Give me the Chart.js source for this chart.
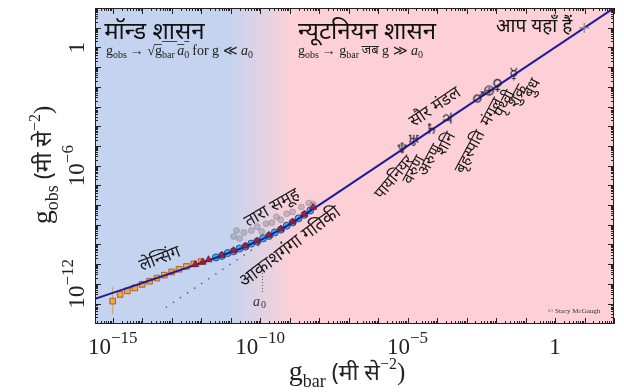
<!DOCTYPE html>
<html><head><meta charset="utf-8">
<script src="https://cdn.jsdelivr.net/npm/chart.js@4.4.0/dist/chart.umd.min.js"></script>
<style>html,body{margin:0;padding:0;background:#fff;}</style>
</head><body>
<canvas id="c" width="624" height="392"></canvas>
<script>
// ---- data (log10 units, m s^-2) ----
const lineX = [-15.6,-15,-14,-13,-12,-11.5,-11,-10.6,-10.2,-9.8,-9.4,-9.0,-8.6,-8.2,-7.8,-7,2.0];
const lineY = [-12.76,-12.46,-11.96,-11.45,-10.94,-10.68,-10.40,-10.17,-9.91,-9.64,-9.32,-8.98,-8.60,-8.20,-7.80,-7.0,2.0];
const newtonX = [-13.2,-9.2];
const newtonY = [-13.2,-9.2];
const lensX = [-15.0,-14.75,-14.5,-14.25,-14.0,-13.75,-13.5,-13.25,-13.0,-12.75,-12.5,-12.25,-12.0];
const lensY = [-12.88,-12.54,-12.36,-12.21,-12.03,-11.87,-11.71,-11.56,-11.40,-11.26,-11.12,-10.99,-10.87];
const lensErrX = [-15.0];
const lensErrLo = [-13.55];
const lensErrHi = [-12.15];
const clusterX = [-10.9,-10.8,-10.7,-10.55,-10.3,-10.1,-9.95,-9.8,-9.6,-9.45,-9.3,-9.1,-8.9,-8.6,-8.35,-8.2];
const clusterY = [-9.6,-9.3,-9.7,-9.4,-9.3,-9.1,-9.35,-8.95,-8.9,-8.6,-8.75,-8.45,-8.35,-8.1,-7.9,-7.95];
const galX = [-11.5,-11.3,-11.1,-10.9,-10.7,-10.5,-10.3,-10.1,-9.9,-9.7,-9.5,-9.3,-9.1,-8.9,-8.7,-8.5,-8.3];
const galY = [-10.66,-10.58,-10.44,-10.35,-10.21,-10.11,-9.96,-9.85,-9.69,-9.57,-9.39,-9.25,-9.05,-8.89,-8.68,-8.50,-8.28];
const triX = [-12.2,-11.95,-11.75,-11.3,-10.9,-10.5,-10.1,-9.7,-9.3,-8.9,-8.5,-8.2];
const triY = [-11.02,-10.90,-10.78,-10.55,-10.32,-10.08,-9.83,-9.54,-9.22,-8.86,-8.47,-8.12];
const planetX = [-5.18,-4.79,-4.19,-3.66,-2.59,-2.23,-1.95,-1.40];
const planetY = [-5.18,-4.79,-4.19,-3.66,-2.59,-2.23,-1.95,-1.40];
const planetSym = ['♆','♅','♄','♃','♂','⊕','♀','☿'];
const planetNames = ['वरुण','अरुण','शनि','बृहस्पति','मंगल','पृथ्वी','शुक्र','बुध'];
const earthX = [0.99];
const earthY = [0.99];
const a0Log = -9.92;
const xTickVals = [-15,-10,-5,0];
const xTickLabels = ['10^−15','10^−10','10^−5','1'];
const yTickVals = [-12,-6,0];
const yTickLabels = ['10^−12','10^−6','1'];

const DEV = "'Noto Sans','Noto Sans Devanagari','Lohit Devanagari','Mukta',sans-serif";
const SERIF = "'Liberation Serif','DejaVu Serif',serif";

const pts = (xs, ys) => xs.map((x, i) => ({x, y: ys[i]}));

function symCanvas(ch) {
  const c = document.createElement('canvas'); c.width = 18; c.height = 18;
  const g = c.getContext('2d');
  g.fillStyle = '#1a1a38'; g.font = "15px 'DejaVu Sans'"; g.textAlign = 'center'; g.textBaseline = 'middle';
  g.fillText(ch, 9, 9.5);
  return c;
}

function drawRich(ctx, x, y, segs, align) {
  let w = 0;
  segs.forEach(s => { ctx.font = s.f; s.w = ctx.measureText(s.t).width; w += s.w + (s.gap || 0); });
  let cx = align === 'center' ? x - w / 2 : x;
  segs.forEach(s => {
    ctx.font = s.f; ctx.fillStyle = s.c || '#222';
    ctx.fillText(s.t, cx, y + (s.dy || 0));
    if (s.over) { ctx.fillRect(cx, y + s.over, s.w, 0.8); }
    cx += s.w + (s.gap || 0);
  });
}

const bgPlugin = {
  id: 'bg',
  beforeDraw(chart) {
    const {ctx, chartArea: a, scales: {x}} = chart;
    ctx.save();
    ctx.fillStyle = '#fff'; ctx.fillRect(0, 0, chart.width, chart.height);
    const g = ctx.createLinearGradient(x.getPixelForValue(-11.1), 0, x.getPixelForValue(-8.9), 0);
    g.addColorStop(0, '#c4d3ef'); g.addColorStop(1, '#fdd0d8');
    ctx.fillStyle = g; ctx.fillRect(a.left, a.top, a.right - a.left, a.bottom - a.top);
    ctx.restore();
  }
};

const labels = [
  {t:'लेन्सिंग', x:-13.40, y:-10.74, r:-21, s:17},
  {t:'तारा समूह', x:-9.60, y:-8.15, r:-30, s:17},
  {t:'आकाशगंगा गतिकी', x:-8.99, y:-10.13, r:-37, s:18},
  {t:'पायनियर', x:-5.45, y:-6.6, r:-50, s:16},
  {t:'सौर मंडल', x:-4.07, y:-3.03, r:-34, s:17},
];
const planetLabelPos = [[-4.78,-6.22],[-4.24,-5.72],[-3.70,-4.90],[-2.88,-5.31],[-2.14,-3.28],[-1.70,-2.87],[-1.26,-2.47],[-0.78,-2.06]];

const textPlugin = {
  id: 'texts',
  afterDatasetsDraw(chart) {
    const {ctx, scales: {x, y}} = chart;
    ctx.save();
    ctx.textBaseline = 'middle'; ctx.textAlign = 'center';
    const put = (t, xv, yv, r, s) => {
      ctx.save(); ctx.translate(x.getPixelForValue(xv), y.getPixelForValue(yv));
      ctx.rotate(r * Math.PI / 180); ctx.font = s + 'px ' + DEV; ctx.fillStyle = '#1a1a1a';
      ctx.fillText(t, 0, 0); ctx.restore();
    };
    labels.forEach(l => put(l.t, l.x, l.y, l.r, l.s));
    planetNames.forEach((n, i) => put(n, planetLabelPos[i][0], planetLabelPos[i][1], -62, 16));
    // a0 label
    drawRich(ctx, x.getPixelForValue(a0Log), y.getPixelForValue(-12.95), [
      {t:'a', f:"italic 14px " + SERIF, c:'#333'}, {t:'0', f:"10px " + SERIF, dy:3, c:'#333'}], 'center');
    // headers
    ctx.textAlign = 'left'; ctx.textBaseline = 'alphabetic';
    ctx.font = '24px ' + DEV; ctx.fillStyle = '#111';
    ctx.fillText('मॉन्ड शासन', x.getPixelForValue(-15.29), y.getPixelForValue(0.426));
    ctx.fillText('न्यूटनियन शासन', x.getPixelForValue(-8.72), y.getPixelForValue(0.426));
    ctx.font = '19px ' + DEV;
    ctx.fillText('आप यहाँ हैं', x.getPixelForValue(-2.0), y.getPixelForValue(0.8));
    const f13 = "14px " + SERIF, f9 = "10px " + SERIF, i13 = "italic 14px " + SERIF;
    drawRich(ctx, x.getPixelForValue(-15.23), y.getPixelForValue(-0.386), [
      {t:'g', f:f13}, {t:'obs', f:f9, dy:3, gap:3}, {t:'→ ', f:f13}, {t:'√', f:f13},
      {t:'g', f:f13, over:-11}, {t:'bar ', f:f9, dy:3, over:-14}, {t:'a', f:i13, over:-11}, {t:'0', f:f9, dy:3, over:-14, gap:3},
      {t:'for g ≪ ', f:f13}, {t:'a', f:i13}, {t:'0', f:f9, dy:3}], 'left');
    drawRich(ctx, x.getPixelForValue(-8.72), y.getPixelForValue(-0.386), [
      {t:'g', f:f13}, {t:'obs', f:f9, dy:3, gap:3}, {t:'→ ', f:f13},
      {t:'g', f:f13}, {t:'bar ', f:f9, dy:3}, {t:'जब', f:'13px ' + DEV, dy:-1}, {t:' g ≫ ', f:f13}, {t:'a', f:i13}, {t:'0', f:f9, dy:3}], 'left');
    ctx.font = "7px " + SERIF; ctx.fillStyle = '#333'; ctx.textAlign = 'left';
    ctx.fillText('© Stacy McGaugh', x.getPixelForValue(-0.24), y.getPixelForValue(-13.48));
    ctx.restore();
  }
};

const axesPlugin = {
  id: 'axesDraw',
  afterDraw(chart) {
    const {ctx, chartArea: a, scales: {x, y}} = chart;
    ctx.save();
    ctx.strokeStyle = '#222'; ctx.lineWidth = 1;
    ctx.strokeRect(a.left + 0.5, a.top + 0.5, a.right - a.left - 1, a.bottom - a.top - 1);
    ctx.beginPath();
    const tickSet = (sc) => {
      const out = [];
      for (let d = Math.floor(sc.min); d <= Math.ceil(sc.max); d++) {
        for (let k = 1; k <= 9; k++) {
          const v = d + Math.log10(k);
          if (v >= sc.min && v <= sc.max) out.push({v, major: k === 1});
        }
      }
      return out;
    };
    tickSet(x).forEach(t => {
      const px = Math.round(x.getPixelForValue(t.v)) + 0.5, L = t.major ? 6 : 3;
      ctx.moveTo(px, a.bottom); ctx.lineTo(px, a.bottom - L);
      ctx.moveTo(px, a.top); ctx.lineTo(px, a.top + L);
    });
    tickSet(y).forEach(t => {
      const py = Math.round(y.getPixelForValue(t.v)) + 0.5, L = t.major ? 6 : 3;
      ctx.moveTo(a.left, py); ctx.lineTo(a.left + L, py);
      ctx.moveTo(a.right, py); ctx.lineTo(a.right - L, py);
    });
    ctx.stroke();
    // tick labels
    ctx.fillStyle = '#222'; ctx.textBaseline = 'alphabetic';
    const big = "23px " + SERIF, sup = "17px " + SERIF;
    const segFor = (lab) => {
      const p = lab.split('^');
      return p.length > 1 ? [{t:p[0], f:big}, {t:p[1], f:sup, dy:-11}] : [{t:p[0], f:big}];
    };
    xTickVals.forEach((v, i) => {
      drawRich(ctx, x.getPixelForValue(v), 354, segFor(xTickLabels[i]), 'center');
    });
    yTickVals.forEach((v, i) => {
      ctx.save(); ctx.translate(84, y.getPixelForValue(v)); ctx.rotate(-Math.PI / 2);
      drawRich(ctx, 0, 0, segFor(yTickLabels[i]), 'center'); ctx.restore();
    });
    // axis titles
    const tseg = (sub) => [
      {t:'g', f:"28px " + SERIF}, {t:sub, f:"18px " + SERIF, dy:7, gap:6},
      {t:'(मी से', f:"23px " + DEV}, {t:'−2', f:"16px " + SERIF, dy:-11}, {t:')', f:"25px " + SERIF}];
    drawRich(ctx, 347, 380, tseg('bar'), 'center');
    ctx.save(); ctx.translate(51, 165); ctx.rotate(-Math.PI / 2);
    drawRich(ctx, 0, 0, tseg('obs'), 'center'); ctx.restore();
    ctx.restore();
  }
};

new Chart(document.getElementById('c'), {
  type: 'scatter',
  data: {
    datasets: [
      {label:'earth', data: pts(earthX, earthY), pointStyle:'cross', pointRadius:5, borderColor:'#8a7f9a', borderWidth:1.2, order:0},
      {label:'planets', data: pts(planetX, planetY), pointStyle: planetSym.map(symCanvas), order:1},
      {label:'RAR', type:'line', data: pts(lineX, lineY), borderColor:'#1d1d9e', borderWidth:2, pointRadius:0, cubicInterpolationMode:'monotone', fill:false, order:3},
      {label:'triangles', data: pts(triX, triY), pointStyle:'triangle', pointRadius:4, backgroundColor:'rgba(150,30,60,0.85)', borderColor:'rgba(120,20,50,0.9)', borderWidth:1, order:2},
      {label:'galaxies', data: pts(galX, galY), pointStyle:'circle', pointRadius:3.5, backgroundColor:'#3fb2e2', borderColor:'#1e4f96', borderWidth:1, order:4},
      {label:'clusters', data: pts(clusterX, clusterY), pointStyle:'circle', pointRadius:3, backgroundColor:'rgba(140,140,150,0.45)', borderColor:'rgba(120,120,130,0.4)', borderWidth:1, order:5},
      {label:'lensing', data: pts(lensX, lensY), pointStyle:'rect', pointRadius:4, backgroundColor:'#f3a547', borderColor:'#b0622a', borderWidth:1, order:6},
      {label:'lensErr', type:'line', data: [...pts(lensErrX, lensErrLo), ...pts(lensErrX, lensErrHi)], borderColor:'#c9a070', borderWidth:1, pointRadius:0, order:7},
      {label:'newton', type:'line', data: pts(newtonX, newtonY), borderColor:'#666', borderWidth:1.5, borderDash:[1.5,7], pointRadius:0, order:8},
      {label:'a0', type:'line', data: [{x:a0Log, y:-11.15}, {x:a0Log, y:-12.45}], borderColor:'#555', borderWidth:1, borderDash:[1,2], pointRadius:0, order:9}
    ]
  },
  options: {
    responsive:false, animation:false, devicePixelRatio:1,
    layout:{padding:{left:95, right:10, top:8, bottom:68}},
    plugins:{legend:{display:false}, tooltip:{enabled:false}},
    scales:{
      x:{type:'linear', min:-15.6, max:2.0, display:false},
      y:{type:'linear', min:-14.04, max:2.0, display:false}
    }
  },
  plugins:[bgPlugin, textPlugin, axesPlugin]
});
</script>
</body></html>
